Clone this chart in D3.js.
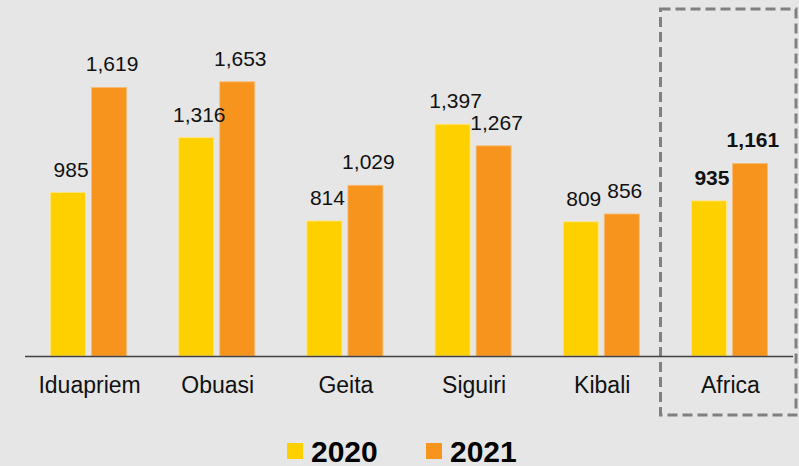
<!DOCTYPE html>
<html>
<head>
<meta charset="utf-8">
<script src="https://cdn.jsdelivr.net/npm/d3@7"></script>
<style>
  body { margin: 0; background: #e6e6e6; }
  svg { display: block; font-family: "Liberation Sans", Arial, sans-serif; }
</style>
</head>
<body>
<svg id="chart"></svg>
<script>
const w = 799;
const h = 466;

// data
const sites = ["Iduapriem", "Obuasi", "Geita", "Siguiri", "Kibali", "Africa"];
const years = ["2020", "2021"];
const values2020 = [985, 1316, 814, 1397, 809, 935];
const values2021 = [1619, 1653, 1029, 1267, 856, 1161];
const colors = { "2020": "#ffd000", "2021": "#f7941d" };

const svg = d3.select("#chart")
  .attr("width", w)
  .attr("height", h);

svg.append("rect")
  .attr("width", w)
  .attr("height", h)
  .attr("fill", "#e6e6e6");

const baseY = 356;

const x0 = d3.scaleBand()
  .domain(sites)
  .range([24.5, 793.5])
  .padding(0);

const x1 = d3.scaleBand()
  .domain(years)
  .range([0, 76])
  .paddingInner(0.146);

const y = d3.scaleLinear()
  .domain([0, 2000])
  .range([baseY, baseY - 331.8]);

const rows = sites.map((s, i) => ({
  site: s,
  vals: [
    { year: "2020", value: values2020[i] },
    { year: "2021", value: values2021[i] }
  ]
}));

// highlight box round Africa
svg.append("rect")
  .attr("x", 660.5)
  .attr("y", 9)
  .attr("width", 135.5)
  .attr("height", 406)
  .attr("fill", "none")
  .attr("stroke", "#808080")
  .attr("stroke-width", 3)
  .attr("stroke-dasharray", "10,5");

const groups = svg.selectAll(".grp")
  .data(rows)
  .join("g")
  .attr("class", "grp")
  .attr("transform", d => `translate(${x0(d.site) + x0.bandwidth() / 2 - 38},0)`);

groups.selectAll("rect")
  .data(d => d.vals)
  .join("rect")
  .attr("x", d => x1(d.year))
  .attr("y", d => y(d.value))
  .attr("width", x1.bandwidth())
  .attr("height", d => baseY - y(d.value))
  .attr("fill", d => colors[d.year])
  .attr("stroke", d => d.year === "2020" ? "#ffe680" : "#fbbd7a")
  .attr("stroke-width", 0.8);

// value labels (Africa in bold)
groups.each(function(g) {
  d3.select(this).selectAll("text")
    .data(g.vals)
    .join("text")
    .attr("x", d => x1(d.year) + x1.bandwidth() / 2 + 3)
    .attr("y", d => y(d.value) - 16)
    .attr("text-anchor", "middle")
    .attr("font-size", 21)
    .attr("font-weight", g.site === "Africa" ? "bold" : "normal")
    .attr("fill", "#111")
    .text(d => d3.format(",")(d.value));
});

// axis line
svg.append("line")
  .attr("x1", 25)
  .attr("x2", 793)
  .attr("y1", baseY + 0.5)
  .attr("y2", baseY + 0.5)
  .attr("stroke", "#404040")
  .attr("stroke-width", 1.5);

// category labels
svg.selectAll(".cat")
  .data(sites)
  .join("text")
  .attr("class", "cat")
  .attr("x", d => x0(d) + x0.bandwidth() / 2 + 1)
  .attr("y", 393)
  .attr("text-anchor", "middle")
  .attr("font-size", 23)
  .attr("fill", "#111")
  .text(d => d);

// legend
const legendX = [287, 426];
const legend = svg.selectAll(".leg")
  .data(years)
  .join("g")
  .attr("class", "leg")
  .attr("transform", (d, i) => `translate(${legendX[i]},443)`);

legend.append("rect")
  .attr("width", 16)
  .attr("height", 16)
  .attr("fill", d => colors[d]);

legend.append("text")
  .attr("x", 24)
  .attr("y", 18.5)
  .attr("font-size", 30)
  .attr("font-weight", "bold")
  .attr("fill", "#000")
  .text(d => d);
</script>
</body>
</html>
